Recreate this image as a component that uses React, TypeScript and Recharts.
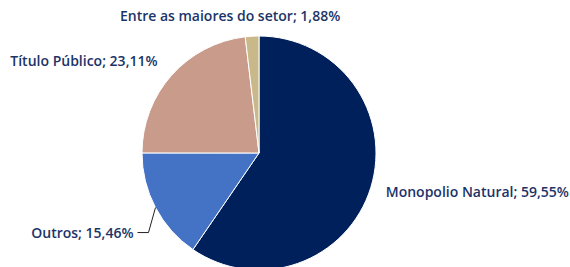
import React from 'react';
import { PieChart, Pie, Cell } from 'recharts';

const categories = ['Monopolio Natural', 'Outros', 'Título Público', 'Entre as maiores do setor'];
const shares = [59.55, 15.46, 23.11, 1.88];
const colors = ['#00205B', '#4472C4', '#C99B8A', '#C9B98A'];

const data = categories.map((name, i) => ({ name, value: shares[i] }));

const fmt = (v: number) => v.toFixed(2).replace('.', ',') + '%';

// label offsets from the slice's outer midpoint
const labelOffsets = [
  { dx: 15, dy: 4, anchor: 'start' },
  { dx: -22, dy: 25, anchor: 'end' },
  { dx: -14, dy: -15, anchor: 'end' },
  { dx: -22, dy: -21, anchor: 'middle' },
];

const RADIAN = Math.PI / 180;

function renderLabel(props: any) {
  const { cx, cy, midAngle, outerRadius, index, name, value } = props;
  const px = cx + outerRadius * Math.cos(-midAngle * RADIAN);
  const py = cy + outerRadius * Math.sin(-midAngle * RADIAN);
  const o = labelOffsets[index];
  const tx = px + o.dx;
  const ty = py + o.dy;
  return (
    <g key={`lbl-${index}`}>
      {index === 1 && (
        <polyline
          points={`${px},${py} ${px - 7},${ty} ${px - 18},${ty}`}
          fill="none"
          stroke="#222"
          strokeWidth={1}
        />
      )}
      <text
        x={tx}
        y={ty}
        textAnchor={o.anchor as any}
        dominantBaseline="central"
        fill="#1B3468"
        fontSize={14}
        fontWeight={600}
        fontFamily="'Open Sans', sans-serif"
      >
        {`${name}; ${fmt(value)}`}
      </text>
    </g>
  );
}

export default function App() {
  return (
    <div style={{ position: 'absolute', left: 0, top: 0, width: 570, height: 267, background: '#fff' }}>
      <PieChart width={570} height={267} margin={{ top: 0, right: 0, bottom: 0, left: 0 }}>
        <Pie
          data={data}
          dataKey="value"
          nameKey="name"
          cx={259}
          cy={153}
          outerRadius={117}
          startAngle={90}
          endAngle={-270}
          stroke="#fff"
          strokeWidth={1}
          label={renderLabel}
          labelLine={false}
          isAnimationActive={false}
        >
          {data.map((d, i) => (
            <Cell key={d.name} fill={colors[i]} />
          ))}
        </Pie>
      </PieChart>
    </div>
  );
}
